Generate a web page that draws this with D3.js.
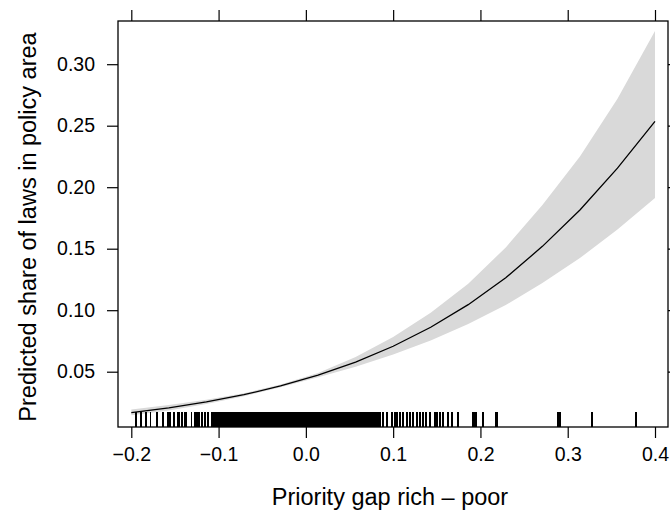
<!DOCTYPE html>
<html lang="en">
<head>
  <meta charset="UTF-8">
  <title>Predicted share of laws</title>
  <script src="https://d3js.org/d3.v7.min.js"></script>
  <style>
    body { margin: 0; background: #fff; }
    svg { display: block; font-family: "Liberation Sans", Arial, sans-serif; }
    .axis text { font-size: 19.5px; fill: #000; }
    .axis line { stroke: #000; stroke-width: 1.2px; }
    .title { font-size: 23.5px; fill: #000; }
  </style>
</head>
<body>
  <div id="chart"></div>
  <script>
    const width = 670, height = 512;

    // effect estimates at the 15 evaluation points
    const gapLevels = [-0.2, -0.157, -0.114, -0.071, -0.029, 0.014, 0.057, 0.1, 0.143, 0.186, 0.229, 0.271, 0.314, 0.357, 0.4];
    const fitValues = [0.0167, 0.0206, 0.0254, 0.0313, 0.0384, 0.0472, 0.0578, 0.0707, 0.0861, 0.1045, 0.1263, 0.1519, 0.1815, 0.2155, 0.2535];
    const lowerValues = [0.0145, 0.0185, 0.0237, 0.0301, 0.0374, 0.0455, 0.0540, 0.0639, 0.0754, 0.0888, 0.1042, 0.1221, 0.1424, 0.1656, 0.1912];
    const upperValues = [0.0192, 0.0229, 0.0272, 0.0325, 0.0395, 0.0489, 0.0619, 0.0782, 0.0980, 0.1215, 0.1510, 0.1855, 0.2250, 0.2720, 0.3270];

    // observed values of the priority gap (rug)
    const rugValues = [
      -0.195, -0.189, -0.1835, -0.178, -0.171, -0.164, -0.158, -0.156, -0.151, -0.147, -0.145, -0.142,
      -0.139, -0.137, -0.131, -0.127, -0.125, -0.122, -0.119, -0.116, -0.112, -0.108, -0.106,
      -0.104, -0.102, -0.1005, -0.099, -0.097, -0.0955, -0.094, -0.092, -0.0905, -0.089, -0.0875, -0.086,
      -0.084, -0.0825, -0.081, -0.079, -0.0775, -0.076, -0.0745, -0.073, -0.071, -0.0695, -0.068, -0.066,
      -0.0645, -0.063, -0.0615, -0.060, -0.058, -0.0565, -0.055, -0.0535, -0.052, -0.050, -0.0485, -0.047,
      -0.0455, -0.044, -0.042, -0.0405, -0.039, -0.0375, -0.036, -0.034, -0.0325, -0.031, -0.0295, -0.028,
      -0.026, -0.0245, -0.023, -0.0215, -0.020, -0.018, -0.0165, -0.015, -0.0135, -0.012, -0.010, -0.0085,
      -0.007, -0.0055, -0.004, -0.002, -0.0005, 0.001, 0.0025, 0.004, 0.006, 0.0075, 0.009, 0.0105, 0.012,
      0.014, 0.0155, 0.017, 0.0185, 0.020, 0.022, 0.0235, 0.025, 0.0265, 0.028, 0.030, 0.0315, 0.033,
      0.0345, 0.036, 0.038, 0.0395, 0.041, 0.0425, 0.044, 0.046, 0.0475, 0.049, 0.0505, 0.052, 0.054,
      0.0555, 0.057, 0.0585, 0.060, 0.062, 0.0635, 0.065, 0.0665, 0.068, 0.070, 0.0715, 0.073, 0.075,
      0.077, 0.079, 0.081, 0.083, 0.085,
      0.0887, 0.0925, 0.0983, 0.102, 0.104, 0.1078, 0.1116, 0.1162, 0.1192, 0.123, 0.1276, 0.1307,
      0.1345, 0.1376, 0.1422, 0.1479, 0.1505, 0.1536, 0.1574, 0.1631, 0.167, 0.1746, 0.1918, 0.1937,
      0.1956, 0.2032, 0.2178, 0.2193, 0.2891, 0.2911, 0.3274, 0.3778
    ];

    const xTicks = [-0.2, -0.1, 0.0, 0.1, 0.2, 0.3, 0.4];
    const yTicks = [0.05, 0.10, 0.15, 0.20, 0.25, 0.30];

    const box = { left: 118, right: 668, top: 21, bottom: 427 };

    const x = d3.scaleLinear().domain([-0.2, 0.4]).range([131.3, 655]);
    const y = d3.scaleLinear().domain([0.05, 0.30]).range([371.7, 64.2]);

    const svg = d3.select("#chart")
      .append("svg")
      .attr("width", width)
      .attr("height", height);

    const rows = gapLevels.map((g, i) => ({ gap: g, fit: fitValues[i], lo: lowerValues[i], hi: upperValues[i] }));

    // confidence band
    svg.append("path")
      .datum(rows)
      .attr("fill", "#d9d9d9")
      .attr("d", d3.area().x(d => x(d.gap)).y0(d => y(d.lo)).y1(d => y(d.hi)));

    // fitted line
    svg.append("path")
      .datum(rows)
      .attr("fill", "none")
      .attr("stroke", "#000")
      .attr("stroke-width", 1.3)
      .attr("d", d3.line().x(d => x(d.gap)).y(d => y(d.fit)));

    // rug
    svg.append("g")
      .attr("shape-rendering", "crispEdges")
      .selectAll("line")
      .data(rugValues)
      .enter().append("line")
      .attr("x1", d => x(d))
      .attr("x2", d => x(d))
      .attr("y1", box.bottom)
      .attr("y2", box.bottom - 15.5)
      .attr("stroke", "#000")
      .attr("stroke-width", 1.8);

    // axes: labels on bottom/left, ticks on all four sides
    const fmtX = d => d === 0 ? "0.0" : d3.format(".1f")(d).replace("-", "\u2212");
    const fmtY = d3.format(".2f");

    svg.append("g").attr("class", "axis")
      .attr("transform", `translate(0,${box.bottom})`)
      .call(d3.axisBottom(x).tickValues(xTicks).tickSize(11).tickPadding(9).tickFormat(fmtX))
      .call(g => g.select(".domain").remove());

    svg.append("g").attr("class", "axis")
      .attr("transform", `translate(0,${box.top})`)
      .call(d3.axisTop(x).tickValues(xTicks).tickSize(11).tickFormat(""))
      .call(g => g.select(".domain").remove());

    svg.append("g").attr("class", "axis")
      .attr("transform", `translate(${box.left},0)`)
      .call(d3.axisLeft(y).tickValues(yTicks).tickSize(11).tickPadding(12).tickFormat(fmtY))
      .call(g => g.select(".domain").remove());

    svg.append("g").attr("class", "axis")
      .attr("transform", `translate(${box.right},0)`)
      .call(d3.axisRight(y).tickValues(yTicks).tickSize(11).tickFormat(""))
      .call(g => g.select(".domain").remove());

    svg.selectAll(".axis text").style("font-family", null);

    // panel border
    svg.append("rect")
      .attr("x", box.left)
      .attr("y", box.top)
      .attr("width", box.right - box.left)
      .attr("height", box.bottom - box.top)
      .attr("fill", "none")
      .attr("stroke", "#000")
      .attr("stroke-width", 1.3);

    // axis titles
    svg.append("text")
      .attr("class", "title")
      .attr("x", (box.left + box.right) / 2 - 3)
      .attr("y", 505)
      .attr("text-anchor", "middle")
      .text("Priority gap rich \u2013 poor");

    svg.append("text")
      .attr("class", "title")
      .attr("transform", `translate(36,${(box.top + box.bottom) / 2 + 3}) rotate(-90)`)
      .attr("text-anchor", "middle")
      .text("Predicted share of laws in policy area");
  </script>
</body>
</html>
